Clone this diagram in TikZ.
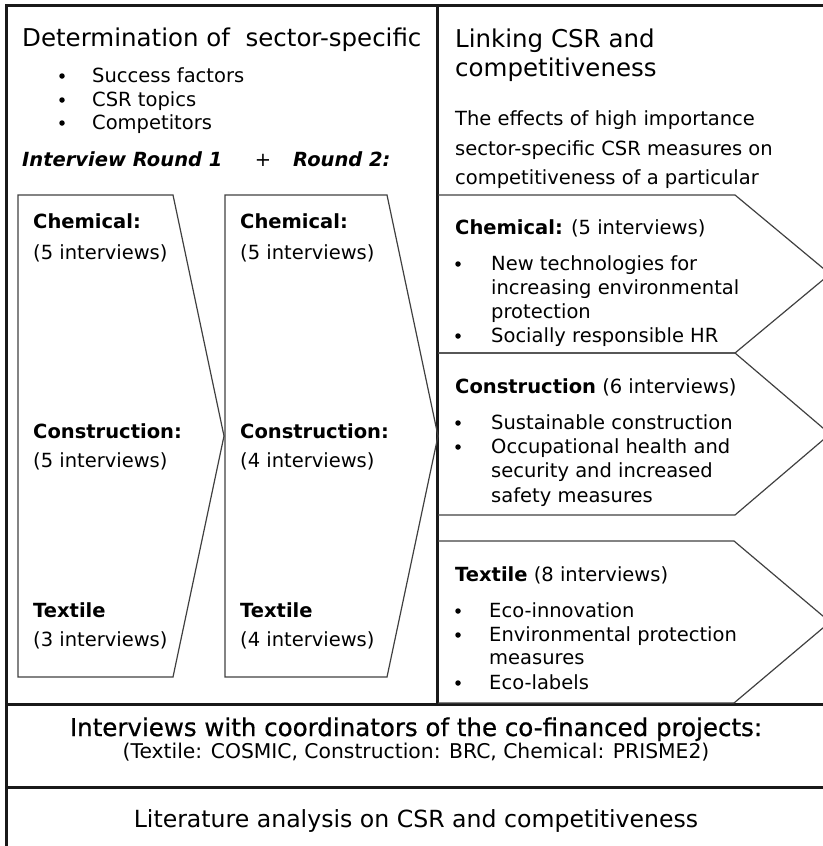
\documentclass[tikz,border=0pt]{standalone}
\usepackage{fontspec}
\setmainfont{DejaVu Sans}
\newfontfamily\heavyfont[FakeBold=0.7]{DejaVu Sans}

\tikzset{
  frame/.style={line width=3pt, black!90},
  chev/.style={line width=1.2pt, black!75, line join=miter},
  txt/.style={anchor=base west, inner sep=0pt, font=\fontsize{19.5}{24}\selectfont},
  hdr/.style={anchor=base west, inner sep=0pt, font=\fontsize{24.5}{30}\selectfont},
  dot/.style={circle, fill, black, inner sep=0pt, minimum size=5.5pt}
}

\begin{document}
\begin{tikzpicture}[x=1pt, y=-1pt]
      \useasboundingbox (0,0) rectangle (822,846);
      % frame
      \coordinate (tl) at (6,5);
      \coordinate (tr) at (827,5);
      \coordinate (bl) at (6,850);
      \coordinate (br) at (827,850);
      \coordinate (mt) at (437.5,5);
      \coordinate (mb) at (437.5,704);
      \draw[frame] (tl) -- (tr) -- (br) -- (bl) -- cycle;
      \draw[frame] (mt) -- (mb);
      \draw[frame] (6,704) -- (827,704);
      \draw[frame] (6,787) -- (827,787);
      % round 1 and round 2 chevrons
      \draw[chev] (18,195) -- (173,195) -- (224,436) -- (173,677) -- (18,677) -- cycle;
      \draw[chev] (225,195) -- (387,195) -- (438,436) -- (387,677) -- (225,677) -- cycle;
      % sector chevrons on the right
      \draw[chev] (438,195) -- (735,195) -- (830,274) -- (735,353) -- (438,353);
      \draw[chev] (438,353) -- (735,353) -- (830,434) -- (735,515) -- (438,515);
      \draw[chev] (438,541) -- (734,541) -- (830,622) -- (734,703) -- (438,703);

      % left panel
      \node[hdr] (det) at (22,46) {Determination of\ \ sector-specific};
      \foreach \n/\y/\t in {sf/82/Success factors, topics/106/CSR topics, comp/129/Competitors} {
        \node[dot] (d\n) at (62,\y-6) {};
        \node[txt] (\n) at (92,\y) {\t};
      }
      \node[txt, font=\fontsize{19.5}{24}\selectfont\bfseries\itshape] (r1) at (22,166) {Interview Round 1};
      \node[txt, anchor=base] (plus) at (263,166) {+};
      \node[txt, font=\fontsize{19.5}{24}\selectfont\bfseries\itshape] (r2) at (293,166) {Round 2:};
      \foreach \x/\r/\a/\b/\c in {33/a/5/5/3, 240/b/5/4/4} {
        \node[txt, font=\fontsize{19.5}{24}\selectfont\bfseries] (chem\r) at (\x,228) {Chemical:};
        \node[txt] (chemn\r) at (\x,259) {(\a\ interviews)};
        \node[txt, font=\fontsize{19.5}{24}\selectfont\bfseries] (cons\r) at (\x,438) {Construction:};
        \node[txt] (consn\r) at (\x,467) {(\b\ interviews)};
        \node[txt, font=\fontsize{19.5}{24}\selectfont\bfseries] (text\r) at (\x,617) {Textile};
        \node[txt] (textn\r) at (\x,646) {(\c\ interviews)};
      }

      % right panel
      \node[hdr] (link1) at (455,47) {Linking CSR and};
      \node[hdr] (link2) at (455,76) {competitiveness};
      \node[txt] (eff1) at (455,125) {The effects of high importance};
      \node[txt] (eff2) at (455,155) {sector-specific CSR measures on};
      \node[txt] (eff3) at (455,184) {competitiveness of a particular};

      \node[txt] (chemr) at (455,234) {\textbf{Chemical:} (5 interviews)};
      \node[txt] (c1) at (491,270) {New technologies for};
      \node[txt] (c2) at (491,294) {increasing environmental};
      \node[txt] (c3) at (491,318) {protection};
      \node[txt] (c4) at (491,342) {Socially responsible HR};

      \node[txt] (consr) at (455,393) {\textbf{Construction} (6 interviews)};
      \node[txt] (k1) at (491,429) {Sustainable construction};
      \node[txt] (k2) at (491,453) {Occupational health and};
      \node[txt] (k3) at (491,477) {security and increased};
      \node[txt] (k4) at (491,502) {safety measures};

      \node[txt] (textr) at (455,581) {\textbf{Textile} (8 interviews)};
      \node[txt] (t1) at (489,617) {Eco-innovation};
      \node[txt] (t2) at (489,641) {Environmental protection};
      \node[txt] (t3) at (489,664) {measures};
      \node[txt] (t4) at (489,689) {Eco-labels};

      \foreach \y [count=\i] in {270,342,429,453,617,641,689} {
        \node[dot] (bul\i) at (458,\y-6) {};
      }

      % bottom rows
      \node[hdr, anchor=base, font=\fontsize{24.5}{30}\heavyfont] (coord) at (416,736) {Interviews with coordinators of the co-financed projects:};
      \node[txt, anchor=base, font=\fontsize{20.3}{24}\selectfont] (proj) at (416,758) {(Textile: COSMIC, Construction: BRC, Chemical: PRISME2)};
      \node[hdr, anchor=base, font=\fontsize{23.6}{28}\selectfont] (lit) at (416,827) {Literature analysis on CSR and competitiveness};
\end{tikzpicture}
\end{document}
